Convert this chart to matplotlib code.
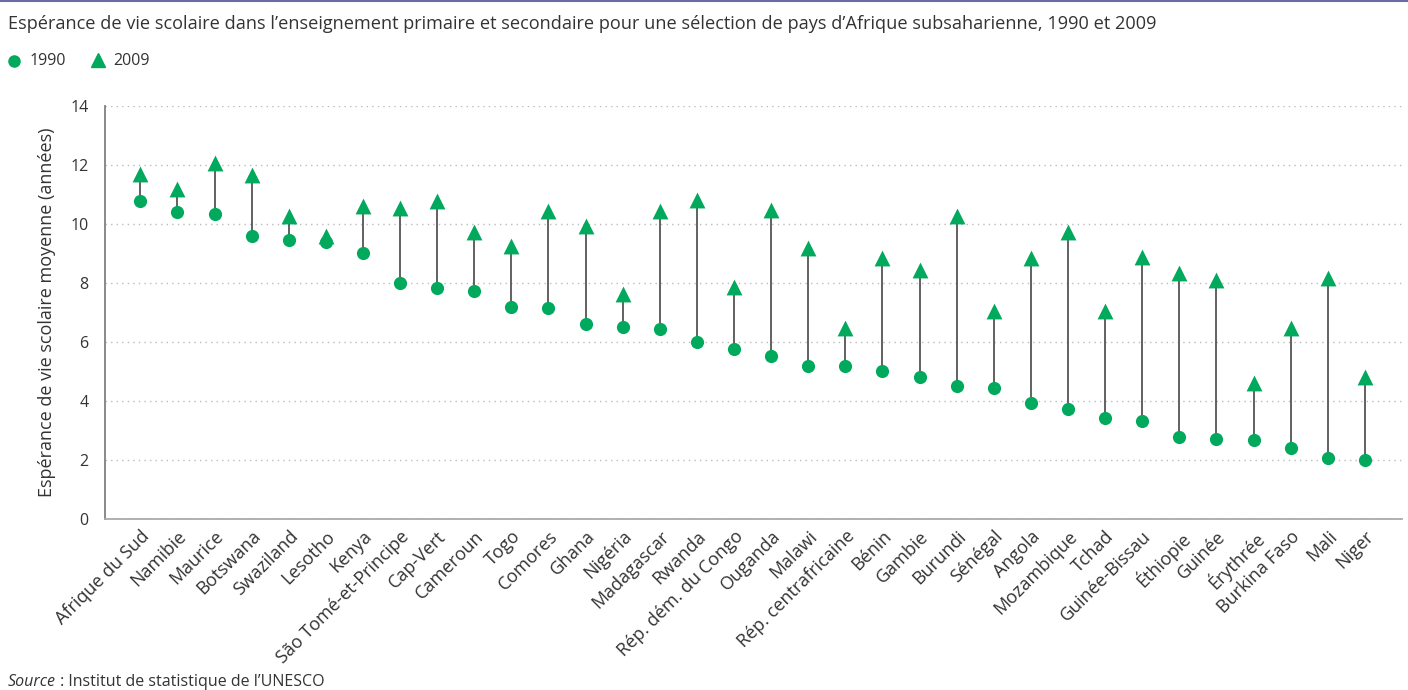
import matplotlib
matplotlib.use("Agg")
import matplotlib.pyplot as plt
from matplotlib.lines import Line2D

countries = ["Afrique du Sud", "Namibie", "Maurice", "Botswana", "Swaziland", "Lesotho",
             "Kenya", "São Tomé-et-Principe", "Cap-Vert", "Cameroun", "Togo", "Comores",
             "Ghana", "Nigéria", "Madagascar", "Rwanda", "Rép. dém. du Congo", "Ouganda",
             "Malawi", "Rép. centrafricaine", "Bénin", "Gambie", "Burundi", "Sénégal",
             "Angola", "Mozambique", "Tchad", "Guinée-Bissau", "Éthiopie", "Guinée",
             "Érythrée", "Burkina Faso", "Mali", "Niger"]
v1990 = [10.78, 10.41, 10.33, 9.6, 9.46, 9.39, 9.02, 7.99, 7.83, 7.73, 7.19, 7.15,
         6.61, 6.51, 6.44, 6.0, 5.76, 5.53, 5.19, 5.19, 5.02, 4.81, 4.51, 4.44,
         3.93, 3.73, 3.42, 3.32, 2.78, 2.71, 2.68, 2.41, 2.07, 2.0]
v2009 = [11.7, 11.2, 12.07, 11.66, 10.27, 9.6, 10.6, 10.54, 10.78, 9.73, 9.25, 10.44,
         9.93, 7.63, 10.44, 10.81, 7.86, 10.47, 9.19, 6.47, 8.85, 8.44, 10.27, 7.05,
         8.85, 9.73, 7.05, 8.88, 8.34, 8.1, 4.6, 6.47, 8.17, 4.81]
yticks = [0, 2, 4, 6, 8, 10, 12, 14]

title = "Espérance de vie scolaire dans l’enseignement primaire et secondaire pour une sélection de pays d’Afrique subsaharienne, 1990 et 2009"
ylabel = "Espérance de vie scolaire moyenne (années)"

GREEN = "#00a95c"
FONT = ["Open Sans", "DejaVu Sans"]
plt.rcParams["font.family"] = FONT

fig = plt.figure(figsize=(14.08, 6.9), dpi=100)
ax = fig.add_axes([0.0746, 0.2478, 0.9211, 0.5986])

x = list(range(len(countries)))
ax.vlines(x, v1990, v2009, color="#555555", lw=1.3, zorder=2)
ax.scatter(x, v1990, s=90, marker="o", color=GREEN, zorder=3, linewidths=0)
ax.scatter(x, v2009, s=130, marker="^", color=GREEN, zorder=3, linewidths=0)

ax.set_xlim(-0.95, 34.0)
ax.set_ylim(0, 14)
ax.set_yticks(yticks)
ax.set_yticklabels([str(t) for t in yticks], fontsize=11.5, color="#333333")
ax.set_xticks(x)
ax.set_xticklabels(countries, rotation=45, ha="right", rotation_mode="anchor",
                   fontsize=13, color="#333333")
ax.tick_params(axis="both", length=0, pad=6)
ax.tick_params(axis="y", pad=12)
ax.yaxis.grid(True, linestyle=(0, (1, 3)), color="#bbbbbb", lw=1)
ax.set_axisbelow(True)
for s in ["top", "right"]:
    ax.spines[s].set_visible(False)
ax.spines["left"].set_color("#808080")
ax.spines["bottom"].set_color("#aaaaaa")
ax.spines["left"].set_linewidth(1.3)
ax.spines["bottom"].set_linewidth(1.3)
ax.set_ylabel(ylabel, fontsize=13, color="#333333", labelpad=10)

fig.text(8 / 1408, 1 - 24 / 690, title, fontsize=13.1, color="#333333", va="center", ha="left")
fig.lines.append(Line2D([0, 1], [0.9985, 0.9985], transform=fig.transFigure, color="#6a6aa8", lw=1.5))

# legend
fig.lines.append(Line2D([14 / 1408], [1 - 61 / 690], transform=fig.transFigure, marker="o",
                        markersize=8, color=GREEN, lw=0))
fig.text(30 / 1408, 1 - 61 / 690, "1990", fontsize=11.5, color="#333333", va="center", ha="left")
fig.lines.append(Line2D([98 / 1408], [1 - 60 / 690], transform=fig.transFigure, marker="^",
                        markersize=10, color=GREEN, lw=0))
fig.text(113 / 1408, 1 - 61 / 690, "2009", fontsize=11.5, color="#333333", va="center", ha="left")

t1 = fig.text(8 / 1408, 1 - 682 / 690, "Source", fontsize=11.5, style="italic", color="#333333",
              va="center", ha="left")
fig.canvas.draw()
bb = t1.get_window_extent()
fig.text(bb.x1 / 1408, 1 - 682 / 690, " : Institut de statistique de l’UNESCO", fontsize=11.5,
         color="#333333", va="center", ha="left")

fig.savefig("out.png", dpi=100)
